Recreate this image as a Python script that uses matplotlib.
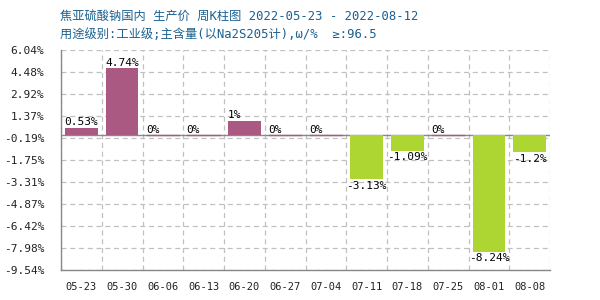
import matplotlib
matplotlib.use("Agg")
import matplotlib.pyplot as plt
import numpy as np

plt.rcParams['font.family'] = ['Noto Sans CJK SC', 'DejaVu Sans']

categories = ["05-23", "05-30", "06-06", "06-13", "06-20", "06-27", "07-04",
              "07-11", "07-18", "07-25", "08-01", "08-08"]
values = [0.53, 4.74, 0, 0, 1, 0, 0, -3.13, -1.09, 0, -8.24, -1.2]
value_labels = ["0.53%", "4.74%", "0%", "0%", "1%", "0%", "0%",
                "-3.13%", "-1.09%", "0%", "-8.24%", "-1.2%"]
yticks = [6.04, 4.48, 2.92, 1.37, -0.19, -1.75, -3.31, -4.87, -6.42, -7.98, -9.54]
title1 = "焦亚硫酸钠国内 生产价 周K柱图 2022-05-23 - 2022-08-12"
title2 = "用途级别:工业级;主含量(以Na2S205计),ω/%  ≥:96.5"

pos_color = "#AA5A82"
neg_color = "#ADD633"
mono = ['DejaVu Sans Mono', 'Noto Sans CJK SC']

fig = plt.figure(figsize=(6, 3), dpi=100)
ax = fig.add_axes([61/600, 30/300, 489/600, 220/300])

x = np.arange(len(categories))
colors = [pos_color if v >= 0 else neg_color for v in values]
for xi, v, c in zip(x, values, colors):
    if v == 0:
        ax.plot([xi - 0.4, xi + 0.4], [0, 0], color=pos_color, lw=1.0, zorder=3)
    else:
        ax.bar(xi, v, width=0.8, color=c, zorder=3)

for xi, v, lab in zip(x, values, value_labels):
    if v >= 0:
        ax.text(xi - 0.42, v + 0.05, lab, ha='left', va='bottom', fontsize=8,
                family=mono, color='black', zorder=4)
    else:
        ax.text(xi, v - 0.12, lab, ha='center', va='top', fontsize=8,
                family=mono, color='black', zorder=4)

ax.axhline(0, color='#888888', lw=1.0, zorder=2)

ax.set_xlim(-0.5, len(categories) - 0.5)
ax.set_ylim(-9.54, 6.04)
ax.set_yticks(yticks)
ax.set_yticklabels([f"{t:.2f}%" for t in yticks], family=mono, fontsize=8)
ax.set_xticks(x)
ax.set_xticklabels(categories, family=mono, fontsize=7.5)
ax.tick_params(axis='y', length=0, pad=12, colors='#222222')
ax.tick_params(axis='x', length=0, pad=9, colors='#222222')

ax.set_xticks(np.arange(-0.5, len(categories)), minor=True)
ax.grid(False)
ax.grid(True, which='minor', axis='x', color='#c0c0c0', ls=(0, (4, 3)), lw=0.9)
ax.grid(True, which='major', axis='y', color='#c0c0c0', ls=(0, (4, 3)), lw=0.9)
ax.tick_params(which='minor', length=0)

for s in ['top', 'right']:
    ax.spines[s].set_visible(False)
for s in ['left', 'bottom']:
    ax.spines[s].set_color('#888888')
    ax.spines[s].set_linewidth(1.0)

fig.text(60/600, 1 - 16/300, title1, fontsize=8.8, color='#1a6090', va='center', ha='left', family=mono)
fig.text(60/600, 1 - 34/300, title2, fontsize=8.8, color='#1a6090', va='center', ha='left', family=mono)

fig.savefig("out.png", dpi=100)
